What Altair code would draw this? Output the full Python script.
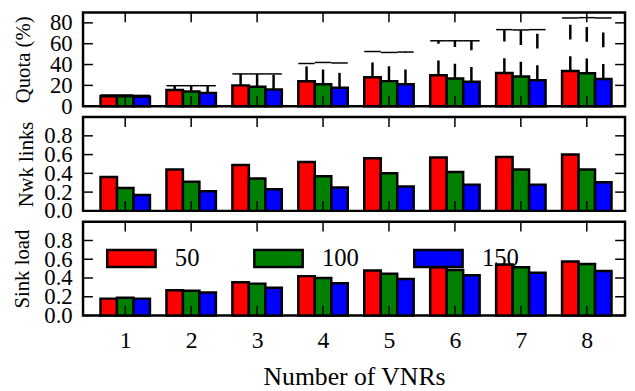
import altair as alt
import pandas as pd

# ---------------- data ----------------
groups = [1, 2, 3, 4, 5, 6, 7, 8]
series = ["50", "100", "150"]
colors = ["#ff0000", "#008000", "#0000ff"]

quota_50 = [9.6, 15.5, 20.0, 24.0, 27.8, 29.7, 31.9, 33.7]
quota_100 = [9.6, 14.2, 18.6, 21.0, 24.1, 26.6, 28.5, 31.6]
quota_150 = [9.0, 12.8, 16.0, 17.8, 21.0, 23.4, 25.0, 26.2]

quota_hi_50 = [10.8, 19.7, 31.0, 41.0, 52.5, 62.8, 73.5, 84.7]
quota_hi_100 = [10.8, 19.7, 31.0, 42.0, 51.6, 62.8, 73.2, 85.0]
quota_hi_150 = [10.4, 19.7, 31.0, 41.5, 52.0, 62.8, 73.5, 84.7]

nwk_50 = [0.36, 0.44, 0.49, 0.52, 0.56, 0.57, 0.575, 0.60]
nwk_100 = [0.245, 0.31, 0.345, 0.37, 0.40, 0.415, 0.44, 0.44]
nwk_150 = [0.17, 0.21, 0.23, 0.25, 0.26, 0.28, 0.28, 0.305]

sink_50 = [0.18, 0.27, 0.355, 0.42, 0.48, 0.515, 0.545, 0.575]
sink_100 = [0.19, 0.265, 0.34, 0.40, 0.445, 0.485, 0.515, 0.55]
sink_150 = [0.18, 0.245, 0.295, 0.345, 0.39, 0.43, 0.455, 0.475]

quota_ticks = [0, 20, 40, 60, 80]
frac_ticks = [0.0, 0.2, 0.4, 0.6, 0.8]

FONT = "Liberation Serif"
W = 549
H = 95
XDOM = [0.36, 8.58]
BW = 0.25
offs = {"50": -0.25, "100": 0.0, "150": 0.25}


def frame(values, hi=None):
    rows = []
    for s in series:
        for i, g in enumerate(groups):
            c = g + offs[s]
            r = dict(group=g, series=s, value=values[s][i],
                     x0=c - BW / 2, x1=c + BW / 2, xc=c)
            if hi is not None:
                r["hi"] = hi[s][i]
            rows.append(r)
    return pd.DataFrame(rows)


df_quota = frame({"50": quota_50, "100": quota_100, "150": quota_150},
                 {"50": quota_hi_50, "100": quota_hi_100, "150": quota_hi_150})
df_nwk = frame({"50": nwk_50, "100": nwk_100, "150": nwk_150})
df_sink = frame({"50": sink_50, "100": sink_100, "150": sink_150})

xscale = alt.Scale(domain=XDOM, nice=False, zero=False)
color_scale = alt.Scale(domain=series, range=colors)


def panel(df, ydom, yticks, yfmt, ytitle, tpad, err=False, bottom=False, legend=False):
    yscale = alt.Scale(domain=ydom, nice=False, zero=True)
    if bottom:
        xaxis = alt.Axis(values=groups, format="d", title="Number of VNRs",
                         ticks=False, tickSize=0, domain=False, grid=False,
                         labelFont=FONT, labelFontSize=24, labelPadding=13,
                         labelFlush=False, labelOverlap=False, labelColor="black",
                         titleFont=FONT, titleFontSize=26, titleFontWeight="normal",
                         titlePadding=12, titleColor="black")
    else:
        xaxis = None
    yaxis = alt.Axis(values=yticks, format=yfmt, title=ytitle,
                     ticks=False, tickSize=0, domain=False, grid=False,
                     labelFont=FONT, labelFontSize=23, labelPadding=11,
                     labelOverlap=False, labelColor="black",
                     titleFont=FONT, titleFontSize=21, titleFontWeight="normal",
                     titleColor="black", titlePadding=tpad)
    if legend:
        leg = alt.Legend(title=None, orient="none", legendX=23, legendY=11,
                         direction="horizontal",
                         symbolType="M-1,-0.35H1V0.35H-1Z", symbolSize=2401,
                         symbolStrokeColor="black", symbolStrokeWidth=2.5,
                         symbolOpacity=1,
                         labelFont=FONT, labelFontSize=25, labelOffset=18,
                         labelColor="black", columnPadding=50, padding=0)
    else:
        leg = None

    X = lambda f: alt.X(f, scale=xscale, axis=xaxis)
    Y = lambda f: alt.Y(f, scale=yscale, axis=yaxis)

    layers = []
    bars = alt.Chart(df).mark_bar(stroke="black", strokeWidth=2.5, opacity=1).encode(
        x=X("x0:Q"), x2="x1:Q", y=Y("value:Q"), y2=alt.datum(0),
        color=alt.Color("series:N", scale=color_scale, legend=leg, sort=series),
    )
    layers.append(bars)
    if err:
        line = alt.Chart(df).mark_rule(color="black", strokeWidth=2.5,
                                       strokeDash=[15, 17]).encode(
            x=X("xc:Q"), y=Y("value:Q"), y2="hi:Q")
        caps = alt.Chart(df).mark_rule(color="black", strokeWidth=1.5).encode(
            x=X("x0:Q"), x2="x1:Q", y=Y("hi:Q"))
        layers += [line, caps]

    xt = pd.DataFrame({"t": groups})
    yt = pd.DataFrame({"t": yticks})
    tick_style = dict(color="black", strokeWidth=1.5)
    layers.append(alt.Chart(xt).mark_rule(**tick_style).encode(
        x=X("t:Q"), y=alt.value(0), y2=alt.value(10)))
    layers.append(alt.Chart(xt).mark_rule(**tick_style).encode(
        x=X("t:Q"), y=alt.value(H - 10), y2=alt.value(H)))
    layers.append(alt.Chart(yt).mark_rule(**tick_style).encode(
        y=Y("t:Q"), x=alt.value(0), x2=alt.value(10)))
    layers.append(alt.Chart(yt).mark_rule(**tick_style).encode(
        y=Y("t:Q"), x=alt.value(W - 10), x2=alt.value(W)))
    return alt.layer(*layers).properties(width=W, height=H)


p1 = panel(df_quota, [0, 90], quota_ticks, "d", "Quota (%)", 16, err=True)
p2 = panel(df_nwk, [0, 1], frac_ticks, ".1f", "Nwk links", 7)
p3 = panel(df_sink, [0, 1], frac_ticks, ".1f", "Sink load", 11, bottom=True, legend=True)

chart = alt.vconcat(p1, p2, p3, spacing=11, bounds="flush").resolve_scale(
    color="independent"
).properties(
    padding={"left": 3, "top": 0, "right": 0, "bottom": 0},
    background="white",
).configure_view(stroke="black", strokeWidth=2.5)

chart.save("out.html", embed_options={"renderer": "svg", "actions": False})
